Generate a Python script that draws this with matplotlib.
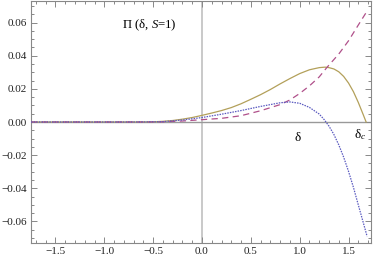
import matplotlib
matplotlib.use("Agg")
import matplotlib.pyplot as plt
from matplotlib.ticker import MultipleLocator, FuncFormatter

# Data
x_solid = [-1.75, -0.8, -0.6, -0.5, -0.4, -0.3, -0.2, -0.1, 0.0, 0.1, 0.2, 0.3, 0.4, 0.5, 0.6,
           0.7, 0.8, 0.9, 1.0, 1.1, 1.2, 1.26, 1.3, 1.35, 1.4, 1.45, 1.5, 1.55, 1.6, 1.65, 1.68]
y_solid = [0.0, 0.0, 0.00003, 0.0001, 0.0004, 0.0009, 0.0017, 0.0027, 0.0040, 0.0054, 0.0069,
           0.0087, 0.0110, 0.0137, 0.0165, 0.0196, 0.0230, 0.0262, 0.0292, 0.0315, 0.0328, 0.0331,
           0.0328, 0.0320, 0.0303, 0.0275, 0.0235, 0.0183, 0.0118, 0.0045, 0.0]

x_dash = [-1.75, -0.8, -0.6, -0.4, -0.2, 0.0, 0.2, 0.4, 0.6, 0.8, 0.9, 1.0, 1.1, 1.2, 1.28,
          1.4, 1.5, 1.6, 1.68]
y_dash = [0.0, 0.0, 0.0, 0.0001, 0.0006, 0.0014, 0.0022, 0.0038, 0.0068, 0.0105, 0.0133,
          0.0172, 0.0218, 0.0272, 0.0330, 0.0410, 0.0490, 0.0585, 0.0660]

x_dot = [-1.75, -0.8, -0.6, -0.4, -0.2, 0.0, 0.2, 0.4, 0.6, 0.8, 0.9, 1.0, 1.1, 1.2, 1.25,
         1.3, 1.35, 1.4, 1.45, 1.5, 1.55, 1.6, 1.65, 1.69]
y_dot = [0.0, 0.0, 0.00003, 0.0002, 0.0012, 0.0027, 0.0047, 0.0069, 0.0094, 0.0116, 0.0121,
         0.0113, 0.0088, 0.0048, 0.0015, -0.0025, -0.0075, -0.0138, -0.0212, -0.0298,
         -0.0394, -0.0500, -0.0605, -0.0690]

xlim = (-1.75, 1.73)
ylim = (-0.073, 0.073)

plt.rcParams['font.family'] = ['Liberation Serif', 'DejaVu Serif']
plt.rcParams['mathtext.fontset'] = 'custom'
plt.rcParams['mathtext.rm'] = 'Liberation Serif'
plt.rcParams['mathtext.it'] = 'Liberation Serif:italic'

fig = plt.figure(figsize=(3.74, 2.61), dpi=100)
ax = fig.add_axes([31/374, 1-243/261, 340/374, 242/261])

ax.axvline(0, color='#bbbbbb', lw=1.1, zorder=1)
ax.axhline(0, color='#999999', lw=1.0, zorder=1)

ax.plot(x_solid, y_solid, color='#B3A05A', lw=0.9, zorder=3)
ax.plot(x_dash, y_dash, color='#B0508A', lw=0.9, dashes=(5, 3.5), zorder=3)
ax.plot(x_dot, y_dot, color='#5A5AC0', lw=0.9, dashes=(1.2, 0.9), zorder=3)

ax.set_xlim(*xlim)
ax.set_ylim(*ylim)

ax.xaxis.set_major_locator(MultipleLocator(0.5))
ax.xaxis.set_minor_locator(MultipleLocator(0.1))
ax.yaxis.set_major_locator(MultipleLocator(0.02))
ax.yaxis.set_minor_locator(MultipleLocator(0.005))

ax.xaxis.set_major_formatter(FuncFormatter(lambda v, p: f"{v:.1f}".replace('-', '\u2212')))
ax.yaxis.set_major_formatter(FuncFormatter(lambda v, p: f"{v:.2f}".replace('-', '\u2212')))

for s in ax.spines.values():
    s.set_color('#888888')
    s.set_linewidth(0.8)

ax.tick_params(which='both', direction='in', top=True, right=True, color='#888888',
               labelsize=8, labelcolor='#222222', width=0.7)
ax.tick_params(which='major', length=4, pad=3)
ax.tick_params(which='minor', length=2)

ax.text(-0.82, 0.0565, r"$\Pi$ (δ, $S$=$\mathit{1}$)", fontsize=9.2, ha='left', va='baseline')
ax.text(0.98, -0.0098, "δ", fontsize=9.5, ha='center', va='center')
ax.text(1.62, -0.0075, r"δ$_{c}$", fontsize=9.5, ha='center', va='center')

fig.savefig("out.png", dpi=100)
